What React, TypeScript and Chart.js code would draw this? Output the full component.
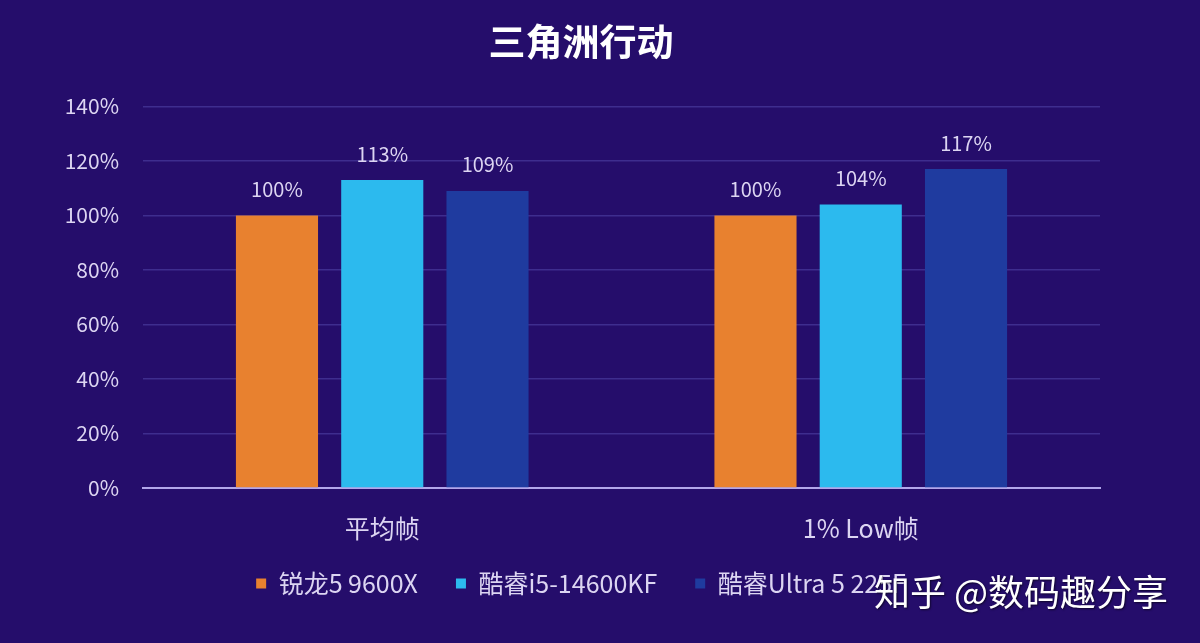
import { useEffect, useRef } from 'react';
import { Chart, registerables, type Plugin } from 'chart.js';

Chart.register(...registerables);

const categories = ['平均帧', '1% Low帧'];
const seriesNames = ['锐龙5 9600X', '酷睿i5-14600KF', '酷睿Ultra 5 225F'];
const ryzen9600x = [100, 100];
const i5_14600kf = [113, 104];
const ultra5_225f = [109, 117];
const seriesColors = ['#E8812F', '#2CBAEE', '#1F3B9F'];

const FONT = '"Noto Sans CJK SC", "Noto Sans", sans-serif';
const BG = '#250D6B';
const TEXT = '#DCD5F2';

// value labels above each bar, like the original slide
const valueLabels: Plugin<'bar'> = {
  id: 'valueLabels',
  afterDatasetsDraw(chart) {
    const { ctx } = chart;
    ctx.save();
    ctx.font = `20px ${FONT}`;
    ctx.fillStyle = TEXT;
    ctx.textAlign = 'center';
    ctx.textBaseline = 'bottom';
    chart.data.datasets.forEach((ds, i) => {
      chart.getDatasetMeta(i).data.forEach((bar, j) => {
        ctx.fillText(`${ds.data[j]}%`, bar.x, bar.y - 16);
      });
    });
    ctx.restore();
  },
};

// the legend sits closer to the category labels than its padding allows
const legendLift: Plugin<'bar'> = {
  id: 'legendLift',
  afterLayout(chart) {
    const lg = chart.legend;
    if (!lg) return;
    lg.top -= 17;
    lg.bottom -= 17;
  },
};

export default function App() {
  const canvasRef = useRef<HTMLCanvasElement>(null);

  useEffect(() => {
    if (!canvasRef.current) return undefined;
    const values = [ryzen9600x, i5_14600kf, ultra5_225f];
    const chart = new Chart(canvasRef.current, {
      type: 'bar',
      data: {
        labels: categories,
        datasets: seriesNames.map((name, i) => ({
          label: name,
          data: values[i],
          backgroundColor: seriesColors[i],
          categoryPercentage: 0.66,
          barPercentage: 0.78,
        })),
      },
      options: {
        animation: false,
        responsive: false,
        layout: { padding: { left: 62, right: 100, top: 0, bottom: 20 } },
        plugins: {
          title: {
            display: true,
            text: '三角洲行动',
            color: '#FFFFFF',
            font: { family: FONT, size: 37, weight: 'bold' },
            padding: { top: 20, bottom: 42 },
          },
          legend: {
            position: 'bottom',
            labels: {
              color: TEXT,
              font: { family: FONT, size: 25 },
              boxWidth: 10,
              boxHeight: 10,
              padding: 38,
            },
          },
          tooltip: { enabled: false },
        },
        scales: {
          x: {
            grid: { display: false },
            border: { color: '#B2A6EA', width: 2 },
            ticks: { color: TEXT, font: { family: FONT, size: 25 }, padding: 17 },
            afterFit: scale => {
              scale.height = 62;
            },
          },
          y: {
            min: 0,
            max: 140,
            ticks: {
              stepSize: 20,
              color: TEXT,
              font: { family: FONT, size: 21 },
              padding: 24,
              callback: v => `${v}%`,
            },
            grid: { color: '#3E2D8E', lineWidth: 1.5, drawTicks: false },
            border: { display: false },
            afterFit: scale => {
              scale.width = 81;
            },
          },
        },
      },
      plugins: [valueLabels, legendLift],
    });
    return () => chart.destroy();
  }, []);

  return (
    <div style={{ position: 'fixed', left: 0, top: 0, width: 1200, height: 643, background: BG, overflow: 'hidden' }}>
      <canvas ref={canvasRef} width={1200} height={643} />
      <div
        style={{
          position: 'absolute',
          left: 874,
          top: 564,
          color: '#FFFFFF',
          fontFamily: FONT,
          fontSize: 36,
          whiteSpace: 'nowrap',
          textShadow: '1px 1px 2px rgba(0,0,0,0.6)',
        }}
      >
        知乎 @数码趣分享
      </div>
    </div>
  );
}
